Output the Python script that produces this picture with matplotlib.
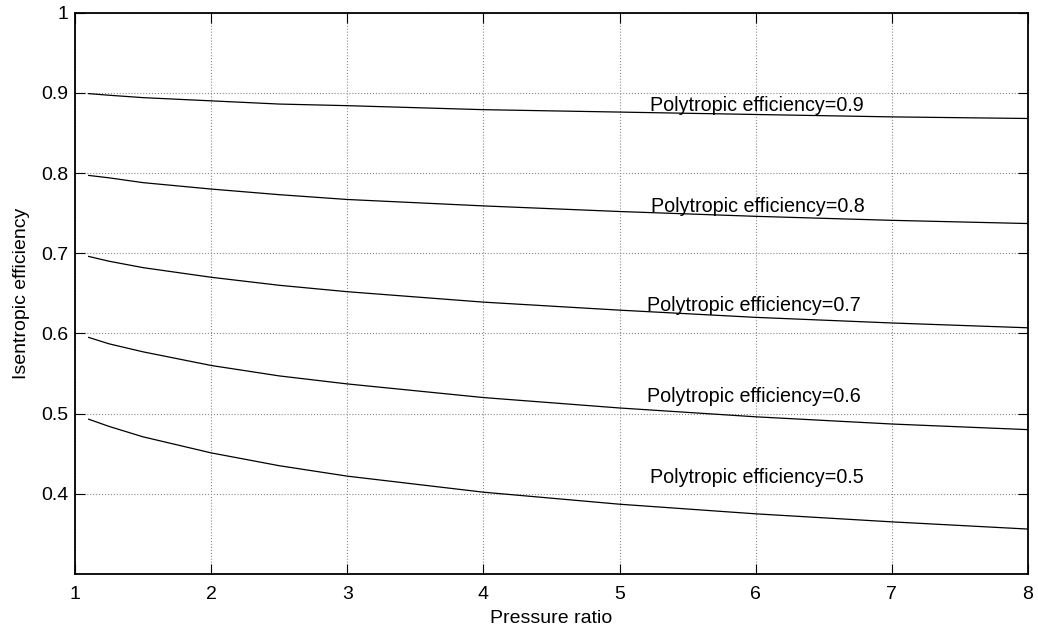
import matplotlib
matplotlib.use("Agg")
from matplotlib import pyplot as plt

pressure_ratio = [1.1, 1.25, 1.5, 2, 2.5, 3, 4, 5, 6, 7, 8]

eff_09 = [0.899, 0.897, 0.894, 0.890, 0.886, 0.884, 0.879, 0.876, 0.873, 0.870, 0.868]
eff_08 = [0.797, 0.794, 0.788, 0.780, 0.773, 0.767, 0.759, 0.752, 0.746, 0.741, 0.737]
eff_07 = [0.696, 0.690, 0.682, 0.670, 0.660, 0.652, 0.639, 0.629, 0.620, 0.613, 0.607]
eff_06 = [0.595, 0.587, 0.577, 0.560, 0.547, 0.537, 0.520, 0.507, 0.496, 0.487, 0.480]
eff_05 = [0.493, 0.484, 0.471, 0.451, 0.435, 0.422, 0.402, 0.387, 0.375, 0.365, 0.356]

curves = [eff_09, eff_08, eff_07, eff_06, eff_05]
labels = ["Polytropic efficiency=0.9", "Polytropic efficiency=0.8",
          "Polytropic efficiency=0.7", "Polytropic efficiency=0.6",
          "Polytropic efficiency=0.5"]
label_x = [5.22, 5.23, 5.20, 5.20, 5.22]
label_y = [0.877, 0.752, 0.628, 0.515, 0.414]

x_ticks = [1, 2, 3, 4, 5, 6, 7, 8]
y_ticks = [0.4, 0.5, 0.6, 0.7, 0.8, 0.9, 1.0]
y_tick_labels = ["0.4", "0.5", "0.6", "0.7", "0.8", "0.9", "1"]

plt.rcParams["font.family"] = ["Liberation Sans", "DejaVu Sans"]
plt.rcParams["font.size"] = 14

fig = plt.figure(figsize=(10.38, 6.32), dpi=100)
ax = fig.add_axes([0.0723, 0.0918, 0.9181, 0.8882])

for values in curves:
    ax.plot(pressure_ratio, values, color="black", lw=0.9)

for txt, tx, ty in zip(labels, label_x, label_y):
    ax.text(tx, ty, txt, ha="left", va="baseline", fontsize=14.2)

ax.set_xlim(1, 8)
ax.set_ylim(0.3, 1.0)
ax.set_xticks(x_ticks)
ax.set_yticks(y_ticks)
ax.set_yticklabels(y_tick_labels)
ax.grid(True, color="0.55", linestyle=":", linewidth=0.8)

ax.tick_params(direction="in", length=7, width=0.8, top=True, right=True,
               labelsize=14)
ax.tick_params(axis="x", pad=9)
ax.tick_params(axis="y", pad=5)
for spine in ax.spines.values():
    spine.set_linewidth(1.3)

ax.set_xlabel("Pressure ratio", fontsize=14, labelpad=5)
ax.set_ylabel("Isentropic efficiency", fontsize=14, labelpad=8)

fig.savefig("out.png", dpi=100)
